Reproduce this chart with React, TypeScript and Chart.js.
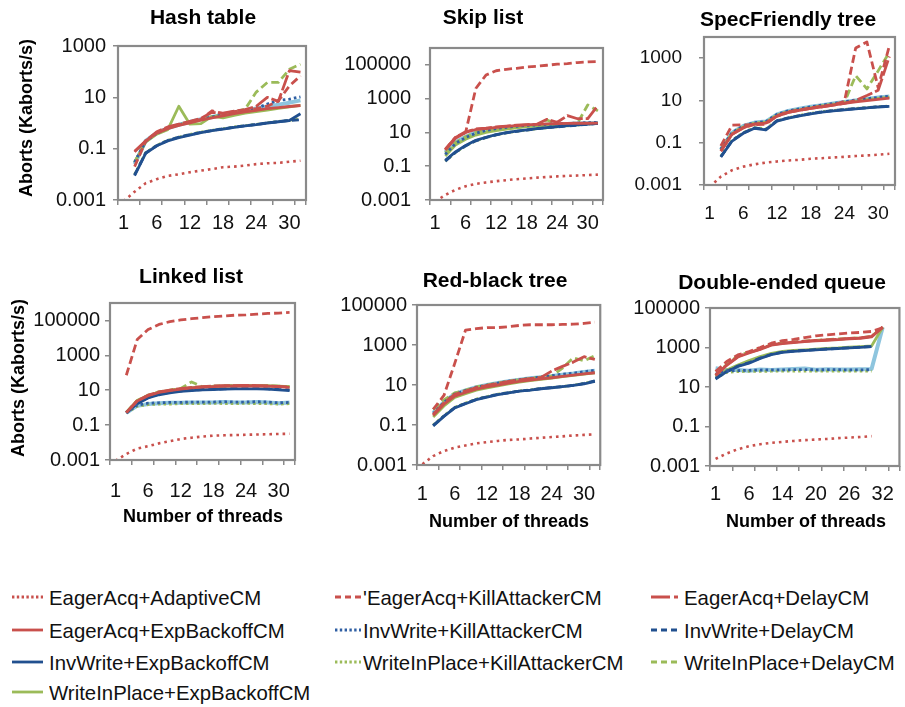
import React, { useEffect, useRef } from 'react';
import { Chart, registerables } from 'chart.js';

Chart.register(...registerables);

const FONT = "'Liberation Sans', Arial, sans-serif";

// ---------- categories / ticks ----------
const THREADS = ['1', '2', '4', '6', '8', '10', '12', '14', '16', '18', '20', '22', '24', '26', '28', '30', '32'];
const QUEUE_THREADS = ['1', '2', '4', '6', '8', '12', '14', '16', '18', '20', '22', '24', '26', '28', '30', '32', ''];
const Y_TICKS = [0.001, 0.1, 10, 1000, 100000];

const SERIES_NAMES = [
  'EagerAcq+AdaptiveCM',
  "'EagerAcq+KillAttackerCM",
  'EagerAcq+DelayCM',
  'EagerAcq+ExpBackoffCM',
  'InvWrite+KillAttackerCM',
  'InvWrite+DelayCM',
  'InvWrite+ExpBackoffCM',
  'WriteInPlace+KillAttackerCM',
  'WriteInPlace+DelayCM',
  'WriteInPlace+ExpBackoffCM',
];

// ---------- Hash table ----------
const HASH_ADAPTIVE = [0.0009, 0.0021, 0.0045, 0.0065, 0.0087, 0.010, 0.012, 0.014, 0.016, 0.019, 0.020, 0.022, 0.025, 0.027, 0.028, 0.031, 0.034];
const HASH_EAGER_KILL = [null, 0.02, 0.19, 0.42, 0.65, 0.85, 1.1, 1.4, 3.0, 2.3, 2.8, 3.2, 3.6, 4.5, 7.2, 28, 69];
const HASH_EAGER_DELAY = [null, 0.08, 0.2, 0.45, 0.7, 0.9, 1.15, 1.5, 2.6, 2.4, 2.9, 3.3, 4.5, 10, 7, 110, 95];
const HASH_EAGER_EXP = [null, 0.075, 0.2, 0.4, 0.6, 0.8, 1.0, 1.3, 1.6, 1.9, 2.3, 2.7, 3.1, 3.6, 4.0, 4.4, 4.8];
const HASH_INV_KILL = [null, 0.03, 0.19, 0.4, 0.62, 0.85, 1.1, 1.4, 1.7, 2.1, 2.6, 3.1, 3.7, 5.5, 7.5, 8.5, 10.5];
const HASH_INV_DELAY = [null, 0.0095, 0.068, 0.13, 0.21, 0.28, 0.35, 0.43, 0.51, 0.59, 0.69, 0.78, 0.87, 1.0, 1.12, 1.25, 1.35];
const HASH_INV_EXP = [null, 0.009, 0.065, 0.13, 0.2, 0.27, 0.34, 0.42, 0.5, 0.58, 0.68, 0.77, 0.86, 1.0, 1.12, 1.25, 2.3];
const HASH_WIP_KILL = [null, 0.01, 0.07, 0.135, 0.21, 0.28, 0.36, 0.44, 0.52, 0.6, 0.7, 0.79, 0.88, 1.02, 1.15, 1.28, 1.45];
const HASH_WIP_DELAY = [null, 0.03, 0.19, 0.4, 0.62, 0.85, 1.1, 1.4, 1.7, 2.1, 2.6, 3.5, 16, 38, 38, 125, 195];
const HASH_WIP_EXP = [null, 0.03, 0.18, 0.37, 0.55, 4.5, 0.9, 0.95, 1.8, 1.6, 2.0, 2.4, 2.8, 3.2, 3.7, 4.3, 4.9];
const HASH_EXTRA = [null, 0.025, 0.2, 0.4, 0.63, 0.85, 1.1, 1.4, 1.7, 2.1, 2.6, 3.1, 3.7, 4.4, 5.2, 6.2, 7.6];

// ---------- Skip list ----------
const SKIP_ADAPTIVE = [0.0008, 0.002, 0.004, 0.0065, 0.009, 0.011, 0.013, 0.015, 0.017, 0.019, 0.021, 0.023, 0.025, 0.027, 0.028, 0.030, 0.032];
const SKIP_EAGER_KILL = [null, 1.0, 5, 10, 4000, 25000, 45000, 55000, 63000, 76000, 83000, 95000, 110000, 120000, 138000, 150000, 158000];
const SKIP_EAGER_DELAY = [null, 1.0, 5, 11, 16, 18, 21, 24, 27, 29, 31, 60, 40, 100, 65, 65, 400];
const SKIP_EAGER_EXP = [null, 0.9, 4.5, 10, 15, 17, 20, 23, 25, 28, 30, 32, 33, 34, 35, 35, 36];
const SKIP_INV_KILL = [null, 0.5, 2.2, 5, 9, 13, 17, 20, 23, 26, 28, 30, 32, 34, 36, 38, 40];
const SKIP_INV_DELAY = [null, 0.2, 0.66, 1.6, 3.2, 5, 7.2, 9.5, 11.5, 13.8, 16.6, 19, 21, 24, 27, 30, 34];
const SKIP_INV_EXP = [null, 0.22, 0.7, 1.7, 3.4, 5.2, 7.5, 9.8, 12, 14, 17, 19.5, 22, 25, 28, 31, 35];
const SKIP_WIP_KILL = [null, 0.2, 0.65, 1.6, 3.2, 5, 7.2, 9.5, 11.5, 13.8, 16.6, 19, 21.5, 24.5, 27.5, 31, 34];
const SKIP_WIP_DELAY = [null, 0.6, 2.5, 5.5, 10, 14, 17, 20, 22, 24.5, 27, 55, 30, 33, 36, 420, 190];
const SKIP_WIP_EXP = [null, 0.4, 1.8, 4, 7, 10, 13, 16, 19, 22, 24, 26, 28, 30, 32, 34, 35];
const SKIP_EXTRA = [null, 0.66, 2.6, 5.5, 10, 14, 17, 20, 22, 24.5, 27, 29, 31, 32, 34, 35, 36];

// ---------- SpecFriendly tree ----------
const SPEC_ADAPTIVE = [0.0008, 0.0025, 0.005, 0.0074, 0.0095, 0.0115, 0.013, 0.0145, 0.0155, 0.0175, 0.0185, 0.02, 0.0215, 0.0235, 0.025, 0.027, 0.03];
const SPEC_EAGER_KILL = [null, 0.07, 0.68, 0.7, 0.72, 0.75, 1.9, 2.9, 3.6, 4.4, 5.3, 6.3, 9, 3000, 5800, 40, 3900];
const SPEC_EAGER_DELAY = [null, 0.04, 0.25, 0.5, 0.75, 0.85, 1.8, 2.7, 3.4, 4.2, 5.0, 6.0, 7.2, 10, 17, 30, 1200];
const SPEC_EAGER_EXP = [null, 0.04, 0.25, 0.52, 0.75, 0.85, 1.8, 2.7, 3.4, 4.2, 5.0, 6.0, 7.2, 8.5, 9.8, 11.3, 13];
const SPEC_INV_KILL = [null, 0.05, 0.3, 0.62, 0.9, 1.0, 2.2, 3.2, 4.0, 5.0, 6.0, 7.2, 8.6, 10.5, 12, 14, 16];
const SPEC_INV_DELAY = [null, 0.022, 0.125, 0.29, 0.5, 0.42, 1.1, 1.5, 1.9, 2.4, 2.9, 3.3, 3.7, 4.1, 4.5, 5.0, 5.3];
const SPEC_INV_EXP = [null, 0.021, 0.12, 0.28, 0.48, 0.4, 1.05, 1.45, 1.85, 2.3, 2.8, 3.2, 3.6, 4.0, 4.4, 4.9, 5.2];
const SPEC_WIP_KILL = [null, 0.023, 0.13, 0.3, 0.52, 0.45, 1.1, 1.5, 1.95, 2.45, 2.95, 3.35, 3.75, 4.15, 4.6, 5.1, 5.4];
const SPEC_WIP_DELAY = [null, 0.045, 0.28, 0.58, 0.85, 0.95, 2.0, 3.0, 3.8, 4.7, 5.6, 6.7, 8.0, 150, 35, 250, 1900];
const SPEC_WIP_EXP = [null, 0.045, 0.27, 0.56, 0.83, 0.92, 2.0, 2.9, 3.7, 4.5, 5.5, 6.5, 7.8, 9.3, 10.8, 12.5, 14.5];
const SPEC_EXTRA = [null, 0.047, 0.3, 0.62, 0.9, 1.0, 2.2, 3.2, 4.0, 5.0, 6.0, 7.1, 8.5, 10, 11.8, 13.6, 15.5];

// ---------- Linked list ----------
const LINKED_ADAPTIVE = [0.0009, 0.0022, 0.0045, 0.0062, 0.009, 0.012, 0.016, 0.019, 0.022, 0.025, 0.026, 0.027, 0.028, 0.029, 0.030, 0.031, 0.032];
const LINKED_EAGER_KILL = [null, 72, 8000, 30000, 59000, 85000, 107000, 126000, 145000, 166000, 182000, 200000, 209000, 229000, 251000, 263000, 288000];
const LINKED_EAGER_DELAY = [null, 0.52, 2.5, 5.2, 8, 10, 12.5, 14.5, 16, 17.5, 18, 18.5, 19, 18.5, 17.5, 16.5, 15.5];
const LINKED_EAGER_EXP = [null, 0.52, 2.4, 4.8, 7.5, 9.5, 11.5, 13.5, 15, 16, 17, 17.5, 18, 17.5, 17, 16, 14.5];
const LINKED_INV_KILL = [null, 0.5, 1.4, 1.8, 1.9, 2.0, 2.0, 2.1, 2.1, 2.1, 2.2, 2.1, 2.1, 2.2, 2.1, 1.9, 2.0];
const LINKED_INV_DELAY = [null, 0.5, 1.8, 3.8, 6, 7.5, 9, 10, 11, 11.5, 12, 12.5, 12.5, 12.5, 12, 11, 10.5];
const LINKED_INV_EXP = [null, 0.5, 1.7, 3.6, 5.5, 7, 8.5, 9.5, 10.5, 11, 11.5, 11.8, 12, 12, 11.5, 10.5, 9.5];
const LINKED_WIP_KILL = [null, 0.5, 1.2, 1.5, 1.6, 1.6, 1.7, 1.7, 1.7, 1.8, 1.7, 1.7, 1.8, 1.7, 1.7, 1.6, 1.7];
const LINKED_WIP_DELAY = [null, 0.55, 2.6, 5.2, 8, 10, 12.5, 30, 15.5, 17, 18, 18.5, 18.5, 18.5, 18, 17, 16];
const LINKED_WIP_EXP = [null, 0.52, 2.6, 5, 7.8, 9.8, 12, 14, 15.5, 16.5, 17.5, 18, 18.5, 18.5, 18, 17, 16];
const LINKED_EXTRA = [null, 0.5, 1.3, 1.6, 1.8, 1.9, 1.9, 2.0, 2.0, 2.0, 2.1, 2.0, 2.0, 2.1, 2.0, 1.8, 2.0];

// ---------- Red-black tree ----------
const RB_ADAPTIVE = [0.0011, 0.0028, 0.005, 0.0074, 0.0095, 0.012, 0.014, 0.016, 0.018, 0.019, 0.021, 0.023, 0.025, 0.027, 0.03, 0.032, 0.034];
const RB_EAGER_KILL = [null, 0.6, 3, 120, 5500, 6600, 7400, 7400, 8300, 9500, 10300, 10300, 10300, 10700, 11000, 12000, 14000];
const RB_EAGER_DELAY = [null, 0.34, 1.3, 3.4, 5, 7.4, 9.6, 12, 15, 18, 21, 24, 50, 85, 140, 260, 190];
const RB_EAGER_EXP = [null, 0.3, 1.1, 2.8, 4.2, 6.2, 8, 10, 12.5, 15, 17.5, 20, 23, 27, 31, 36, 41];
const RB_INV_KILL = [null, 0.36, 1.35, 3.5, 5.2, 7.6, 9.9, 12.4, 15.5, 18.5, 21.6, 24.7, 29, 35, 39, 46, 54];
const RB_INV_DELAY = [null, 0.095, 0.28, 0.74, 1.2, 1.9, 2.6, 3.4, 4.1, 5, 5.6, 6.6, 7.4, 8.3, 9.6, 12, 16];
const RB_INV_EXP = [null, 0.09, 0.27, 0.72, 1.15, 1.85, 2.5, 3.3, 4.0, 4.9, 5.5, 6.5, 7.3, 8.2, 9.5, 11.5, 15];
const RB_WIP_KILL = [null, 0.1, 0.29, 0.76, 1.25, 1.95, 2.65, 3.5, 4.2, 5.1, 5.7, 6.7, 7.5, 8.4, 9.7, 12, 16];
const RB_WIP_DELAY = [null, 0.6, 1.8, 4, 5.5, 8, 10, 12.5, 15.5, 18.5, 21.5, 24.5, 28, 70, 230, 160, 290];
const RB_WIP_EXP = [null, 0.25, 0.9, 2.4, 3.7, 5.5, 7.2, 9, 11.5, 14, 16.5, 19, 22, 26, 30, 35, 40];
const RB_EXTRA = [null, 0.4, 1.4, 3.6, 5.4, 7.8, 10, 12.5, 15.5, 18.5, 21.5, 24.5, 28, 33, 38, 45, 52];

// ---------- Double-ended queue ----------
const QUEUE_ADAPTIVE = [0.0023, 0.0043, 0.0071, 0.01, 0.0126, 0.0148, 0.0166, 0.0186, 0.0204, 0.0219, 0.0234, 0.0257, 0.0275, 0.0295, 0.0324, null, null];
const QUEUE_EAGER_KILL = [60, 195, 420, 630, 1000, 1650, 2200, 2600, 3200, 3900, 4400, 4900, 5400, 5800, 6500, 10000, null];
const QUEUE_EAGER_DELAY = [40, 130, 350, 560, 830, 1380, 1660, 1860, 2090, 2290, 2450, 2630, 2880, 3090, 3630, 10700, null];
const QUEUE_EAGER_EXP = [38, 125, 330, 530, 790, 1310, 1580, 1770, 1990, 2180, 2330, 2500, 2740, 2940, 3450, 10700, null];
const QUEUE_INV_KILL = [45, 65, 68, 70, 72, 74, 74, 75, 76, 74, 75, 75, 74, 74, 75, null, null];
const QUEUE_INV_DELAY = [28, 62, 115, 170, 290, 450, 580, 660, 720, 780, 840, 900, 970, 1040, 1120, null, null];
const QUEUE_INV_EXP = [25, 60, 110, 160, 280, 430, 560, 640, 700, 760, 820, 880, 950, 1020, 1100, null, null];
const QUEUE_WIP_KILL = [28, 55, 60, 62, 62, 63, 63, 63, 64, 63, 63, 63, 63, 63, 63, null, null];
const QUEUE_WIP_DELAY = [38, 140, 380, 580, 850, 1400, 1700, 1900, 2100, 2300, 2500, 2700, 2900, 3100, 3700, 10700, null];
const QUEUE_WIP_EXP = [34, 72, 130, 220, 350, 510, 630, 710, 760, 830, 890, 950, 1050, 1120, 1200, 10700, null];
const QUEUE_EXTRA = [90, 72, 72, 66, 76, 72, 78, 82, 86, 75, 79, 78, 78, 79, 82, 10700, null];

// ---------- styles ----------
const RED = '#C9504C';
const NAVY = '#21508F';
const DOTBLUE = '#2F5FA3';
const GREEN = '#9BBB59';
const LIGHTBLUE = '#8EC5DE';
const AXIS = '#8A8A8A';

const STYLES = [
  { color: RED, dash: [2.6, 4], width: 2.6 },
  { color: RED, dash: [8, 4], width: 2.8 },
  { color: RED, dash: [16, 3], width: 2.8 },
  { color: RED, dash: [], width: 2.8 },
  { color: DOTBLUE, dash: [2.6, 3], width: 2.8 },
  { color: NAVY, dash: [7, 4], width: 2.8 },
  { color: NAVY, dash: [], width: 2.8 },
  { color: GREEN, dash: [2.6, 3], width: 2.8 },
  { color: GREEN, dash: [8, 4], width: 2.8 },
  { color: GREEN, dash: [], width: 2.8 },
  { color: LIGHTBLUE, dash: [], width: 4 },
];

// legend key dash patterns (svg)
const LEGEND_DASH = ['2.4 2.4', '6 4', '19 4', 'none', '2.4 2.4', '6 4', 'none', '2.4 2.4', '6 4', 'none'];

type Cfg = {
  title: string;
  labels: string[];
  series: (number | null)[][];
  cell: [number, number, number, number];
  area: [number, number, number, number];
  yMax: number;
  titlePos: [number, number];
  yTitle?: [number, number];
  xTitle?: [number, number];
  padX: number;
  padY: number;
  tickSize: number;
};

const CHARTS: Cfg[] = [
  {
    title: 'Hash table', labels: THREADS,
    series: [HASH_ADAPTIVE, HASH_EAGER_KILL, HASH_EAGER_DELAY, HASH_EAGER_EXP, HASH_INV_KILL, HASH_INV_DELAY, HASH_INV_EXP, HASH_WIP_KILL, HASH_WIP_DELAY, HASH_WIP_EXP, HASH_EXTRA],
    cell: [0, 0, 310, 240], area: [118, 46, 306, 200], yMax: 1000,
    titlePos: [203, 18], yTitle: [27, 118], padX: 6, padY: 7, tickSize: 20,
  },
  {
    title: 'Skip list', labels: THREADS,
    series: [SKIP_ADAPTIVE, SKIP_EAGER_KILL, SKIP_EAGER_DELAY, SKIP_EAGER_EXP, SKIP_INV_KILL, SKIP_INV_DELAY, SKIP_INV_EXP, SKIP_WIP_KILL, SKIP_WIP_DELAY, SKIP_WIP_EXP, SKIP_EXTRA],
    cell: [310, 0, 300, 240], area: [430, 48, 603, 200], yMax: 1000000,
    titlePos: [483, 18], padX: 6, padY: 14, tickSize: 20,
  },
  {
    title: 'SpecFriendly tree', labels: THREADS,
    series: [SPEC_ADAPTIVE, SPEC_EAGER_KILL, SPEC_EAGER_DELAY, SPEC_EAGER_EXP, SPEC_INV_KILL, SPEC_INV_DELAY, SPEC_INV_EXP, SPEC_WIP_KILL, SPEC_WIP_DELAY, SPEC_WIP_EXP, SPEC_EXTRA],
    cell: [610, 0, 295, 240], area: [704, 37, 895, 185], yMax: 10000,
    titlePos: [788, 20], padX: 12, padY: 17, tickSize: 19,
  },
  {
    title: 'Linked list', labels: THREADS,
    series: [LINKED_ADAPTIVE, LINKED_EAGER_KILL, LINKED_EAGER_DELAY, LINKED_EAGER_EXP, LINKED_INV_KILL, LINKED_INV_DELAY, LINKED_INV_EXP, LINKED_WIP_KILL, LINKED_WIP_DELAY, LINKED_WIP_EXP, LINKED_EXTRA],
    cell: [0, 250, 305, 290], area: [110, 303, 295, 460], yMax: 1000000,
    titlePos: [191, 277], yTitle: [19, 378], xTitle: [203, 517], padX: 14, padY: 5, tickSize: 20,
  },
  {
    title: 'Red-black tree', labels: THREADS,
    series: [RB_ADAPTIVE, RB_EAGER_KILL, RB_EAGER_DELAY, RB_EAGER_EXP, RB_INV_KILL, RB_INV_DELAY, RB_INV_EXP, RB_WIP_KILL, RB_WIP_DELAY, RB_WIP_EXP, RB_EXTRA],
    cell: [305, 250, 302, 290], area: [417, 305, 602, 465], yMax: 100000,
    titlePos: [495, 281], xTitle: [509, 522], padX: 12, padY: 5, tickSize: 20,
  },
  {
    title: 'Double-ended queue', labels: QUEUE_THREADS,
    series: [QUEUE_ADAPTIVE, QUEUE_EAGER_KILL, QUEUE_EAGER_DELAY, QUEUE_EAGER_EXP, QUEUE_INV_KILL, QUEUE_INV_DELAY, QUEUE_INV_EXP, QUEUE_WIP_KILL, QUEUE_WIP_DELAY, QUEUE_WIP_EXP, QUEUE_EXTRA],
    cell: [607, 250, 298, 290], area: [710, 308, 900, 466], yMax: 100000,
    titlePos: [782, 283], xTitle: [806, 522], padX: 11, padY: 5, tickSize: 20,
  },
];

function SubChart({ cfg }: { cfg: Cfg }) {
  const ref = useRef<HTMLCanvasElement>(null);
  useEffect(() => {
    const [cx, cy, cw, ch] = cfg.cell;
    const [L, T, R, B] = cfg.area;
    const decor = {
      id: 'decor',
      afterDraw(chart: any) {
        const { ctx, chartArea: a } = chart;
        ctx.save();
        ctx.strokeStyle = AXIS;
        ctx.lineWidth = 2.2;
        ctx.setLineDash([]);
        ctx.strokeRect(a.left, a.top, a.right - a.left, a.bottom - a.top);
        ctx.fillStyle = '#000';
        ctx.textAlign = 'center';
        ctx.textBaseline = 'middle';
        ctx.font = `bold 21px ${FONT}`;
        ctx.fillText(cfg.title, cfg.titlePos[0] - cx, cfg.titlePos[1] - cy);
        ctx.font = `bold 18px ${FONT}`;
        if (cfg.xTitle) ctx.fillText('Number of threads', cfg.xTitle[0] - cx, cfg.xTitle[1] - cy);
        if (cfg.yTitle) {
          ctx.translate(cfg.yTitle[0] - cx, cfg.yTitle[1] - cy);
          ctx.rotate(-Math.PI / 2);
          ctx.fillText('Aborts (Kaborts/s)', 0, 0);
        }
        ctx.restore();
      },
    };
    const chart = new Chart(ref.current as HTMLCanvasElement, {
      type: 'line',
      data: {
        labels: cfg.labels,
        datasets: cfg.series.map((d, i) => ({
          label: SERIES_NAMES[i] ?? '',
          data: d,
          borderColor: STYLES[i].color,
          backgroundColor: STYLES[i].color,
          borderDash: STYLES[i].dash,
          borderWidth: STYLES[i].width,
          borderCapStyle: 'butt',
          borderJoinStyle: 'round',
          pointRadius: 0,
          tension: 0,
          fill: false,
          spanGaps: false,
        })) as any,
      },
      options: {
        responsive: false,
        animation: false,
        devicePixelRatio: 1,
        events: [],
        layout: { autoPadding: false, padding: { left: 0, top: T - cy, right: cx + cw - R, bottom: 0 } },
        plugins: { legend: { display: false }, tooltip: { enabled: false }, title: { display: false } },
        scales: {
          x: {
            type: 'category',
            offset: true,
            grid: {
              offset: true,
              drawOnChartArea: false,
              drawTicks: true,
              tickLength: 5,
              lineWidth: 1.5,
              color: (c: any) => (c.index === undefined || c.index % 2 === 0 ? AXIS : 'rgba(0,0,0,0)'),
            },
            border: { display: false },
            ticks: {
              autoSkip: false,
              maxRotation: 0,
              minRotation: 0,
              padding: cfg.padX,
              color: '#111',
              font: { family: FONT, size: cfg.tickSize },
              callback: (_v: any, i: number) => (i % 3 === 0 ? cfg.labels[i] : ''),
            },
            afterFit: (s: any) => { s.height = cy + ch - B; },
          },
          y: {
            type: 'logarithmic',
            min: 0.001,
            max: cfg.yMax,
            grid: { drawOnChartArea: false, drawTicks: true, tickLength: 5, lineWidth: 1.5, color: AXIS },
            border: { display: false },
            ticks: {
              padding: cfg.padY,
              color: '#111',
              font: { family: FONT, size: cfg.tickSize },
              callback: (v: any) => String(v),
            },
            afterBuildTicks: (s: any) => {
              s.ticks = Y_TICKS.filter((v) => v <= cfg.yMax).map((v) => ({ value: v }));
            },
            afterFit: (s: any) => { s.width = L - cx; },
          },
        },
      } as any,
      plugins: [decor],
    });
    return () => chart.destroy();
  }, [cfg]);
  const [cx, cy, cw, ch] = cfg.cell;
  return (
    <canvas
      ref={ref}
      width={cw}
      height={ch}
      style={{ position: 'absolute', left: cx, top: cy, width: cw, height: ch }}
    />
  );
}

// legend layout (page coords)
const LEGEND_COLS = [
  { mx: 12, mw: 31, tx: 49 },
  { mx: 335, mw: 26, tx: 363 },
  { mx: 651, mw: 27, tx: 684 },
];
const LEGEND_ROWS = [597, 630, 662, 692];

function Legend() {
  return (
    <>
      {SERIES_NAMES.map((name, i) => {
        const col = LEGEND_COLS[i % 3];
        const y = LEGEND_ROWS[Math.floor(i / 3)];
        const st = STYLES[i];
        return (
          <React.Fragment key={name}>
            <svg
              width={col.mw}
              height={8}
              style={{ position: 'absolute', left: col.mx, top: y - 4 }}
            >
              <line x1={0} y1={4} x2={col.mw} y2={4} stroke={st.color} strokeWidth={2.8} strokeDasharray={LEGEND_DASH[i]} />
            </svg>
            <span
              style={{
                position: 'absolute',
                left: col.tx,
                top: y - 10.3,
                fontFamily: FONT,
                fontSize: 21,
                lineHeight: '21px',
                whiteSpace: 'nowrap',
                color: '#111',
                transform: 'scaleX(0.97)',
                transformOrigin: '0 50%',
              }}
            >
              {name}
            </span>
          </React.Fragment>
        );
      })}
    </>
  );
}

export default function App() {
  return (
    <div style={{ position: 'absolute', left: 0, top: 0, width: 905, height: 707, background: '#fff', overflow: 'hidden' }}>
      {CHARTS.map((c) => (
        <SubChart key={c.title} cfg={c} />
      ))}
      <Legend />
    </div>
  );
}
